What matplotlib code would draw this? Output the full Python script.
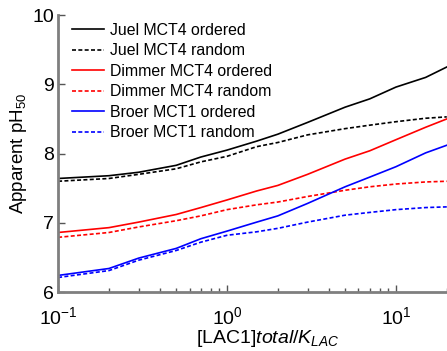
import matplotlib
matplotlib.use('Agg')
import matplotlib.pyplot as plt

plt.rcParams['font.family'] = 'Liberation Sans'
plt.rcParams['mathtext.fontset'] = 'custom'
plt.rcParams['mathtext.rm'] = 'Liberation Sans'
plt.rcParams['mathtext.it'] = 'Liberation Sans:italic'

# ratio [LAC1]total / K_LAC
ratio = [0.1, 0.2, 0.3, 0.5, 0.7, 1, 1.5, 2, 3, 5, 7, 10, 15, 20]

juel_ordered = [7.64, 7.68, 7.73, 7.83, 7.95, 8.05, 8.18, 8.28, 8.45, 8.67, 8.79, 8.96, 9.10, 9.25]
juel_random = [7.60, 7.64, 7.70, 7.78, 7.88, 7.96, 8.10, 8.16, 8.27, 8.36, 8.41, 8.46, 8.51, 8.53]
dimmer_ordered = [6.86, 6.93, 7.01, 7.12, 7.22, 7.33, 7.46, 7.54, 7.70, 7.92, 8.04, 8.20, 8.38, 8.50]
dimmer_random = [6.79, 6.86, 6.94, 7.03, 7.10, 7.19, 7.26, 7.30, 7.38, 7.47, 7.52, 7.56, 7.59, 7.60]
broer_ordered = [6.24, 6.34, 6.49, 6.63, 6.77, 6.88, 7.01, 7.10, 7.28, 7.52, 7.66, 7.81, 8.01, 8.12]
broer_random = [6.21, 6.31, 6.46, 6.60, 6.72, 6.82, 6.87, 6.92, 7.01, 7.11, 7.15, 7.19, 7.22, 7.23]

series = [
    ('Juel MCT4 ordered', juel_ordered, 'black', '-'),
    ('Juel MCT4 random', juel_random, 'black', '--'),
    ('Dimmer MCT4 ordered', dimmer_ordered, 'red', '-'),
    ('Dimmer MCT4 random', dimmer_random, 'red', '--'),
    ('Broer MCT1 ordered', broer_ordered, 'blue', '-'),
    ('Broer MCT1 random', broer_random, 'blue', '--'),
]

fig = plt.figure(figsize=(4.47, 3.51), dpi=100)
# the original axes runs past the right edge of the picture
ax = fig.add_axes([0.130, 0.168, 0.936, 0.789])

for label, values, color, style in series:
    kw = dict(dashes=(2.4, 1.4)) if style == '--' else {}
    ax.plot(ratio, values, color=color, linestyle=style, linewidth=1.2,
            label=label, **kw)

ax.set_xscale('log')
ax.set_xlim(0.1, 30)
ax.set_ylim(6, 10)
ax.set_yticks([6, 7, 8, 9, 10])

for side in ['top', 'right']:
    ax.spines[side].set_visible(False)
for side in ['left', 'bottom']:
    ax.spines[side].set_color('#7f7f7f')
    ax.spines[side].set_linewidth(2)

ax.tick_params(which='both', direction='in', color='#555555', labelsize=14)
ax.tick_params(which='major', length=5, width=1)
ax.tick_params(which='minor', length=3, width=1)
ax.tick_params(axis='x', which='both', pad=10)
ax.tick_params(axis='y', pad=3)

ax.set_ylabel('Apparent pH$_{50}$', fontsize=13.5, labelpad=2)
ax.set_xlabel(r'[LAC1]$\mathit{total/K_{LAC}}$', fontsize=14, labelpad=0)

ax.legend(loc='upper left', frameon=False, fontsize=11.4, handlelength=2.0,
          handletextpad=0.4, labelspacing=0.35, borderaxespad=0,
          borderpad=0.4, bbox_to_anchor=(0.019, 0.996))

fig.savefig('out.png', dpi=100)
